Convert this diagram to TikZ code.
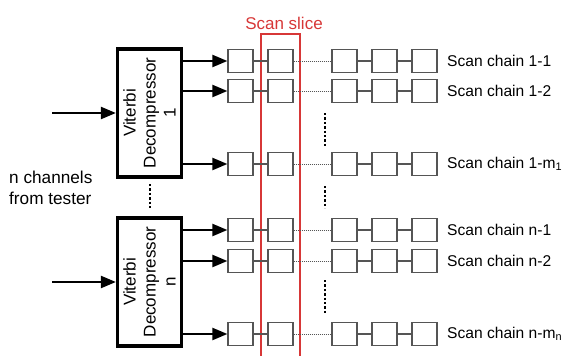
\documentclass[tikz,border=0pt]{standalone}
\usepackage{fontspec}
\setmainfont{Liberation Sans}
\usetikzlibrary{arrows.meta}
\definecolor{slicered}{RGB}{215,55,55}
\definecolor{cellgray}{RGB}{85,85,85}
\begin{document}
\begin{tikzpicture}[x=1pt,y=-1pt,
  decomp/.style={draw=black, line width=3.2pt, minimum width=64pt, minimum height=128pt, inner sep=0pt},
  dtext/.style={rotate=90, align=center, font=\fontsize{17}{20}\selectfont, inner sep=0pt},
  cell/.style={draw=cellgray, line width=1.2pt, minimum width=25pt, minimum height=23pt, inner sep=0pt},
  link/.style={draw=cellgray, line width=1.2pt},
  dotlink/.style={draw=cellgray, line width=1pt, dash pattern=on 1pt off 1pt},
  arr/.style={line width=2.2pt, -{Triangle[length=15pt,width=12pt]}},
  vdots/.style={line width=2.4pt, dash pattern=on 2.4pt off 2pt},
  lbl/.style={font=\fontsize{15.6}{18}\selectfont, anchor=west, inner sep=0pt},
  slice/.style={draw=slicered, line width=1.5pt, minimum width=39pt, minimum height=330pt, inner sep=0pt, anchor=north}]
\useasboundingbox (0,0) rectangle (563,356);

% scan slice
\node[slice] (slice) at (280.5,33) {};
\node[text=slicered, font=\fontsize{17}{19}\selectfont, anchor=south, inner sep=0pt] (slicelbl) at (284,30) {Scan slice};

% decompressors
\node[decomp] (d1) at (149.5,113) {};
\node[dtext] (t1) at (d1.center) {Viterbi\\Decompressor\\1};
\node[decomp] (dn) at (149.5,282) {};
\node[dtext] (tn) at (dn.center) {Viterbi\\Decompressor\\n};

% inputs
\coordinate (in1) at (52,113);
\coordinate (inn) at (52,282);
\draw[arr] (in1) -- (d1.west);
\draw[arr] (inn) -- (dn.west);

\node[align=left, anchor=west, font=\fontsize{17.2}{21}\selectfont, inner sep=0pt] (src) at (9,188) {n channels\\from tester};

% scan chains
\foreach \r/\y/\dd/\lab in {1/61/d1/{Scan chain 1-1}, 2/91/d1/{Scan chain 1-2}, 3/164/d1/{Scan chain 1-m\textsubscript{1}},
                             4/230/dn/{Scan chain n-1}, 5/261/dn/{Scan chain n-2}, 6/334/dn/{Scan chain n-m\textsubscript{n}}}{
  \node[cell] (c\r-1) at (240.5,\y) {};
  \node[cell] (c\r-2) at (280.5,\y) {};
  \node[cell] (c\r-3) at (344.5,\y) {};
  \node[cell] (c\r-4) at (384.5,\y) {};
  \node[cell] (c\r-5) at (424.5,\y) {};
  \draw[link] (c\r-1) -- (c\r-2);
  \draw[dotlink] (c\r-2) -- (c\r-3);
  \draw[link] (c\r-3) -- (c\r-4);
  \draw[link] (c\r-4) -- (c\r-5);
  \draw[arr] (\dd.east |- c\r-1.west) -- (c\r-1.west);
  \node[lbl] (l\r) at (447,\y) {\lab};
}

% vertical dots
\coordinate (va1) at (325,113); \coordinate (vb1) at (325,147);
\coordinate (va2) at (325,186); \coordinate (vb2) at (325,208);
\coordinate (va3) at (325,280); \coordinate (vb3) at (325,315);
\coordinate (va4) at (150,184); \coordinate (vb4) at (150,208);
\draw[vdots] (va1) -- (vb1);
\draw[vdots] (va2) -- (vb2);
\draw[vdots] (va3) -- (vb3);
\draw[vdots] (va4) -- (vb4);
\end{tikzpicture}
\end{document}
